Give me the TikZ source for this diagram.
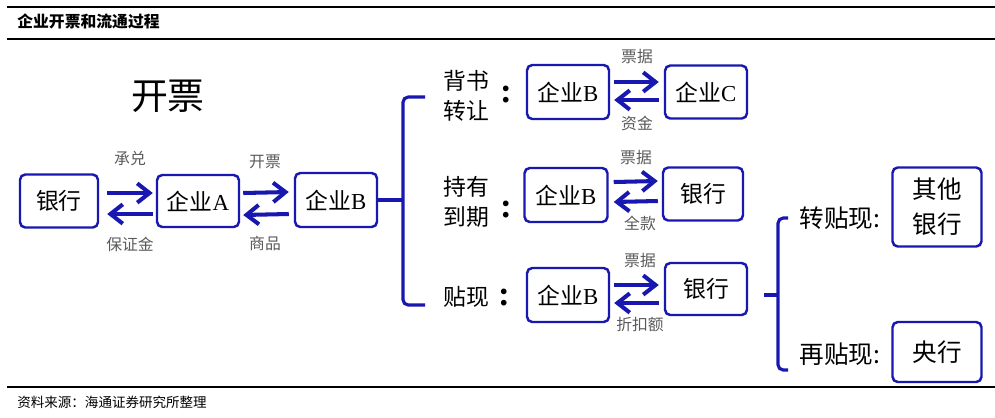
\documentclass[tikz,border=0pt]{standalone}
\usepackage{fontspec}
\setmainfont{Liberation Serif}
\newfontfamily\cjk{Noto Sans CJK SC}
\usetikzlibrary{arrows.meta}
\definecolor{hblue}{RGB}{24,24,176}
\definecolor{hgray}{RGB}{90,90,90}
\newdimen\px \px=0.02cm

\begin{document}
\begin{tikzpicture}[x=0.02cm,y=-0.02cm,
  box/.style={draw=hblue,line width=1.4pt,rounded corners=3pt,fill=white,
    font=\fontsize{13}{15}\selectfont,inner sep=0pt},
  flow/.style={hblue,line width=2.3pt,-{Straight Barb[length=7pt,width=11pt,line width=2.3pt]}},
  brace/.style={hblue,line width=1.8pt,rounded corners=3pt},
  tag/.style={text=hgray,font=\cjk\fontsize{9}{10}\selectfont,inner sep=0pt},
  lbl/.style={font=\cjk\fontsize{13}{17}\selectfont,align=center,inner sep=0pt},
  dots/.style={font=\bfseries\fontsize{20}{20}\selectfont,inner sep=0pt}]
\useasboundingbox (0,0) rectangle (995,417);

% frame lines and captions
\draw[line width=0.6pt] (7,7) -- (995,7);
\draw[line width=0.6pt] (7,39) -- (995,39);
\draw[line width=0.6pt] (7,387) -- (995,387);
\node[anchor=west,font=\cjk\bfseries\fontsize{9}{10}\selectfont,inner sep=0pt] (title) at (17,21) {企业开票和流通过程};
\node[anchor=west,font=\cjk\fontsize{7.7}{9}\selectfont,inner sep=0pt] (src) at (17,402) {资料来源：海通证券研究所整理};

% issuing
\node[font=\cjk\fontsize{21}{24}\selectfont] (kp) at (168,96) {开票};
\node[box,minimum width=78\px,minimum height=53\px] (bank) at (59,201) {\cjk 银行};
\node[box,minimum width=82\px,minimum height=52\px] (qyA) at (198,201) {{\cjk 企业}A};
\node[box,minimum width=82\px,minimum height=54\px] (qyB) at (336,200) {{\cjk 企业}B};

\draw[flow] ([shift={(8,-8)}]bank.east) -- ([shift={(-3,-8)}]qyA.west);
\draw[flow] ([shift={(-3,13)}]qyA.west) -- ([shift={(8,13)}]bank.east);
\draw[flow] ([shift={(3,-8)}]qyA.east) -- ([shift={(-5,-8)}]qyB.west);
\draw[flow] ([shift={(-5,14)}]qyB.west) -- ([shift={(3,14)}]qyA.east);
\node[tag] (cd) at (130,158) {承兑};
\node[tag] (bzj) at (130,244) {保证金};
\node[tag] (kp2) at (265,162) {开票};
\node[tag] (sp) at (265,243) {商品};

% circulation
\coordinate (m1) at (403,200);
\draw[brace] (qyB.east) -- (m1);
\draw[brace] (425,97) -- (403,97) -- (403,305) -- (425,305);

% endorsement
\node[lbl] (bs) at (466,96) {背书\\转让};
\node[dots] (c1) at (506,95) {:};
\node[box,minimum width=82\px,minimum height=54\px] (r1B) at (568,92) {{\cjk 企业}B};
\node[box,minimum width=82\px,minimum height=53\px] (r1C) at (706,92) {{\cjk 企业}C};
\draw[flow] ([shift={(4,-10)}]r1B.east) -- ([shift={(-5,-10)}]r1C.west);
\draw[flow] ([shift={(-5,8)}]r1C.west) -- ([shift={(4,8)}]r1B.east);
\node[tag] (pj1) at (637,56) {票据};
\node[tag] (zj) at (637,123) {资金};

% holding to maturity
\node[lbl] (cy) at (466,202) {持有\\到期};
\node[dots] (c2) at (506,210) {:};
\node[box,minimum width=83\px,minimum height=54\px] (r2B) at (566,195) {{\cjk 企业}B};
\node[box,minimum width=80\px,minimum height=53\px] (r2K) at (703,194) {\cjk 银行};
\draw[flow] ([shift={(5,-13)}]r2B.east) -- ([shift={(-4,-13)}]r2K.west);
\draw[flow] ([shift={(-4,7)}]r2K.west) -- ([shift={(5,7)}]r2B.east);
\node[tag] (pj2) at (636,157) {票据};
\node[tag] (qk) at (640,223) {全款};

% discounting
\node[lbl] (tx) at (466,297) {贴现};
\node[dots] (c3) at (504,298) {:};
\node[box,minimum width=82\px,minimum height=54\px] (r3B) at (568,295) {{\cjk 企业}B};
\node[box,minimum width=82\px,minimum height=52\px] (r3K) at (706,289) {\cjk 银行};
\draw[flow] ([shift={(4,-10)}]r3B.east) -- ([shift={(-5,-4)}]r3K.west);
\draw[flow] ([shift={(-5,14)}]r3K.west) -- ([shift={(4,8)}]r3B.east);
\node[tag] (pj3) at (640,260) {票据};
\node[tag] (zke) at (640,325) {折扣额};

% rediscounting
\coordinate (m2) at (778,295);
\draw[brace] ([shift={(16,6)}]r3K.east) -- (m2);
\draw[brace] (788,218) -- (778,218) -- (778,370) -- (788,370);
\node[lbl,font=\cjk\fontsize{14}{17}\selectfont] (ztx) at (840,218) {转贴现:};
\node[lbl,font=\cjk\fontsize{14}{17}\selectfont] (zaitx) at (840,354) {再贴现:};
\node[box,minimum width=89\px,minimum height=79\px,align=center,font=\cjk\fontsize{14}{20}\selectfont] (qtyh) at (937,207) {其他\\银行};
\node[box,minimum width=89\px,minimum height=60\px,font=\cjk\fontsize{14}{17}\selectfont] (yh) at (937,352) {央行};
\end{tikzpicture}
\end{document}
